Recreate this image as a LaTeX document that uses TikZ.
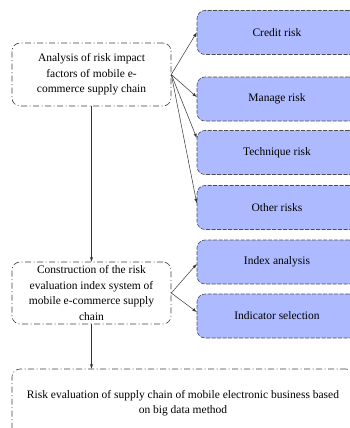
\documentclass[tikz,border=0pt]{standalone}
\usepackage{fontspec}
\setmainfont{Liberation Serif}
\usepackage{xcolor}
\definecolor{riskblue}{RGB}{174,186,255}
\usetikzlibrary{
	positioning,    % posizionamento relativo
	arrows.meta     % punte di freccia
}

\begin{document}
\begin{tikzpicture}[>=latex, x=1pt, y=-1pt, font=\fontsize{11.5}{15.5}\selectfont,
	stepleft/.style={draw=black!75, line width=0.6pt, dash pattern=on 6pt off 2.5pt on 1pt off 2.5pt, rounded corners=8pt, minimum width=159pt, inner ysep=0pt, align=center},
	riskbox/.style={draw=black!70, fill=riskblue, line width=0.6pt, dash pattern=on 4pt off 1.5pt, rounded corners=8pt, minimum width=160pt, minimum height=44pt},
	link/.style={->, line width=0.5pt, black!80}]
		% --- Cornice ---
		\useasboundingbox (0,0) rectangle (350,428);
		\clip (0,0) rectangle (350,428);
		
		% --- Blocchi a sinistra ---
		\node[stepleft, minimum height=63pt] (analysis) at (91.5,74.5) {Analysis of risk impact\\factors of mobile e-\\commerce supply chain};
		\node[stepleft, minimum height=62pt] (construct) at (91.5,293) {Construction of the risk\\evaluation index system of\\mobile e-commerce supply\\chain};
		
		% --- Rischi ---
		\node[riskbox] (credit) at (277,32.5) {Credit risk};
		\node[riskbox] (manage) at (277,99) {Manage risk};
		\node[riskbox] (technique) at (277,152.5) {Technique risk};
		\node[riskbox] (other) at (277,207.5) {Other risks};
		
		% --- Indici ---
		\node[riskbox] (index) at (277,262) {Index analysis};
		\node[riskbox] (indicator) at (277,316) {Indicator selection};
		
		% --- Valutazione finale ---
		\node[stepleft, minimum width=342pt, minimum height=68pt] (evaluation) at (183,403) {Risk evaluation of supply chain of mobile electronic business based\\on big data method};
		
		% --- Frecce ---
		\draw[link] (analysis.east) -- (credit.west);
		\draw[link] (analysis.east) -- ([yshift=2pt]manage.west);
		\draw[link] (analysis.east) -- ([yshift=14.5pt]technique.west);
		\draw[link] (analysis.east) -- ([yshift=4.5pt]other.west);
		\draw[link] (construct.east) -- ([yshift=-2pt]index.west);
		\draw[link] (construct.east) -- ([yshift=4pt]indicator.west);
		\draw[link] (analysis.south) -- (construct.north);
		\draw[link] (construct.south) -- (construct.south |- evaluation.north);
	\end{tikzpicture}
\end{document}
